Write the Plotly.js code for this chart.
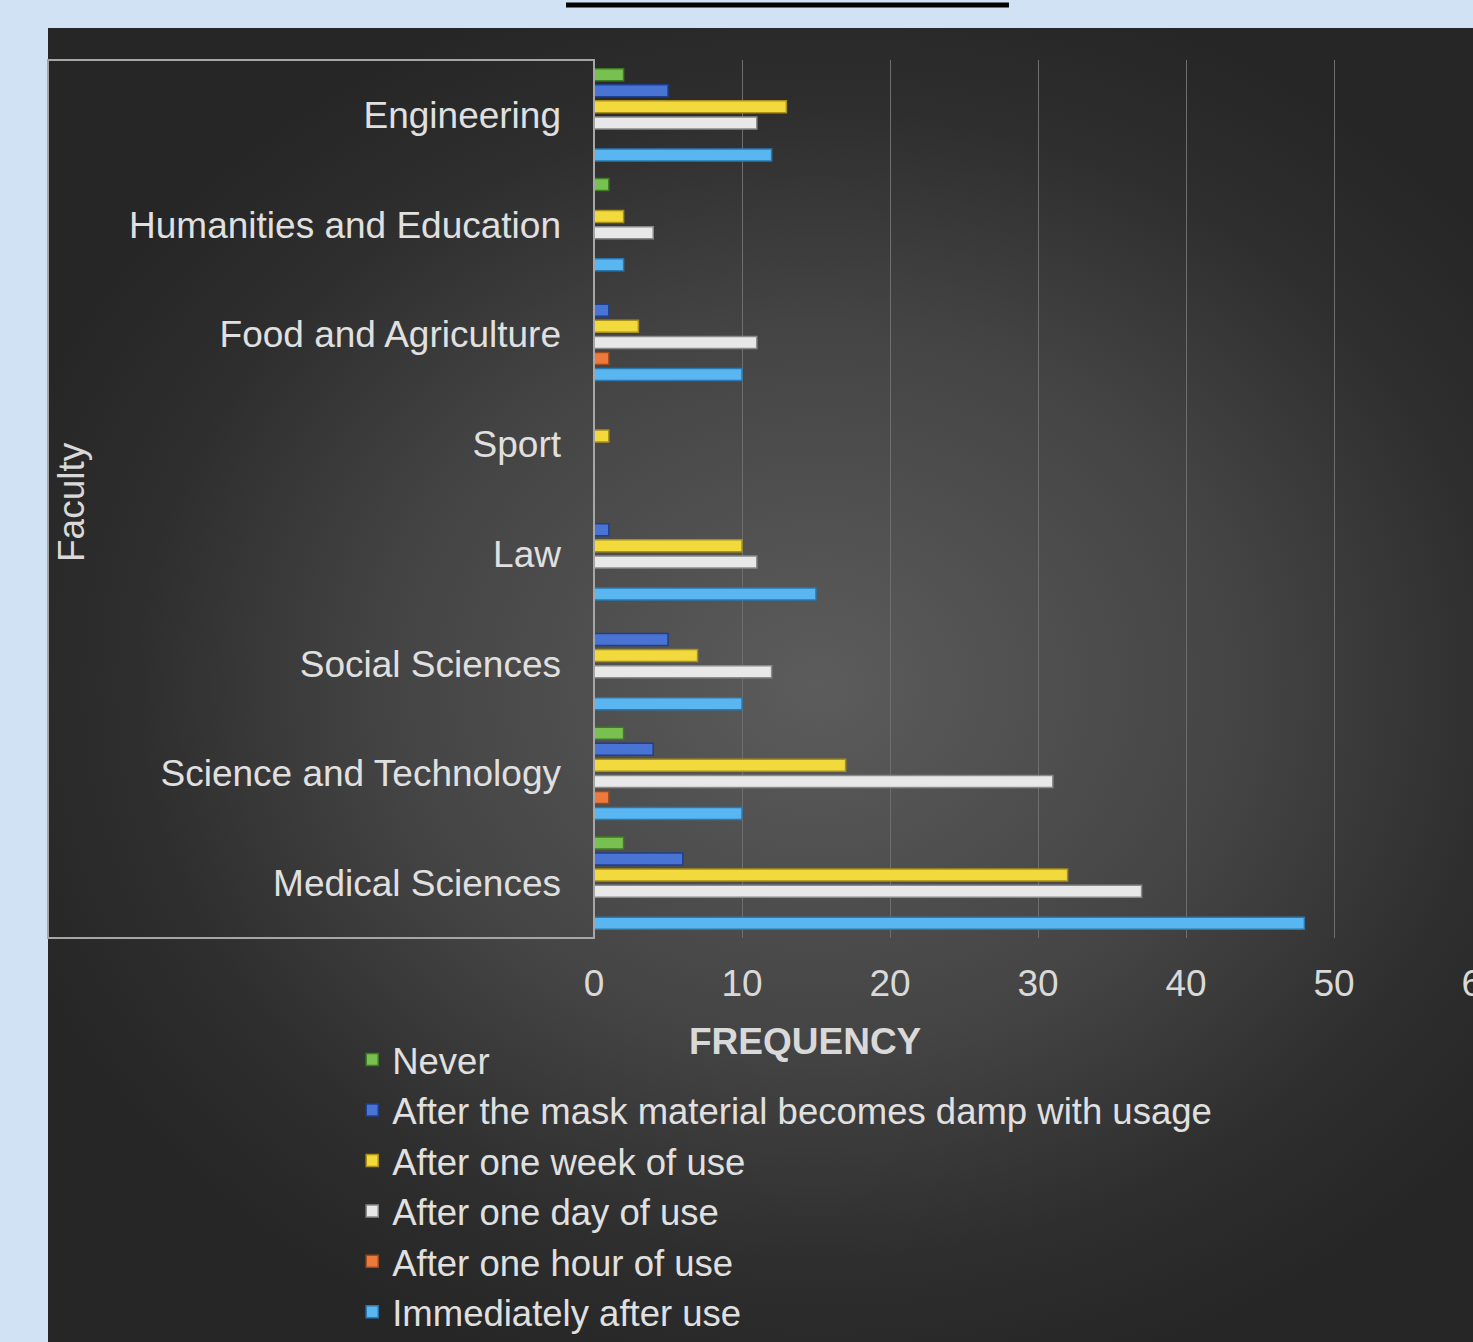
<!DOCTYPE html>
<html>
<head>
<meta charset="utf-8">
<script src="https://cdn.plot.ly/plotly-3.0.1.min.js"></script>
<style>
  html, body { margin:0; padding:0; width:1473px; height:1342px; overflow:hidden; background:#d0e2f3; }
  #panel { position:absolute; left:48px; top:28px; width:1425px; height:1314px;
    background: radial-gradient(ellipse 60% 55% at 54% 50%, #5c5c5c 0%, #444444 50%, #2e2e2e 80%, #262626 100%); }
  #chart { position:absolute; left:0; top:0; width:1520px; height:1342px; }
</style>
</head>
<body>
<div id="panel"></div>
<div id="chart"></div>
<script>
const categories = ["Engineering", "Humanities and Education", "Food and Agriculture", "Sport", "Law", "Social Sciences", "Science and Technology", "Medical Sciences"];
const seriesNames = ["Never", "After the mask material becomes damp with usage", "After one week of use", "After one day of use", "After one hour of use", "Immediately after use"];
const never       = [2, 1, 0, 0, 0, 0, 2, 2];
const damp        = [5, 0, 1, 0, 1, 5, 4, 6];
const oneWeek     = [13, 2, 3, 1, 10, 7, 17, 32];
const oneDay      = [11, 4, 11, 0, 11, 12, 31, 37];
const oneHour     = [0, 0, 1, 0, 0, 0, 1, 0];
const immediately = [12, 2, 10, 0, 15, 10, 10, 48];
const xTicks = [0, 10, 20, 30, 40, 50, 60];

const values = [never, damp, oneWeek, oneDay, oneHour, immediately];
const colors = ["#78c050", "#4a74d4", "#f2da3c", "#e8e8e8", "#ec7a3c", "#5ab6f0"];
const edges  = ["#3f7a25", "#1f3f8f", "#a8901a", "#8a8a8a", "#a04a1c", "#2a78b0"];

const traces = values.map((v, i) => ({
  type: "bar", orientation: "h", name: seriesNames[i],
  y: categories, x: v,
  marker: { color: colors[i], line: { color: edges[i], width: 1.5 } },
  hoverinfo: "x+y+name"
}));

const font = "Liberation Sans, Arial, sans-serif";
const layout = {
  width: 1520, height: 1342,
  margin: { l: 594, r: 38, t: 60, b: 404, autoexpand: false },
  paper_bgcolor: "rgba(0,0,0,0)", plot_bgcolor: "rgba(0,0,0,0)",
  barmode: "group", bargap: 0.125, bargroupgap: 0.25,
  font: { family: font, color: "#d9d9d9", size: 37 },
  xaxis: { range: [0, 60], tickvals: xTicks, showgrid: true, gridcolor: "#6e6e6e", gridwidth: 1,
           zeroline: false, showline: false, ticks: "", ticklabelstandoff: 20, automargin: false,
           tickfont: { size: 37, color: "#d9d9d9" } },
  yaxis: { autorange: "reversed", type: "category", showgrid: false, zeroline: false, showline: false,
           ticks: "", ticklabelstandoff: 32, automargin: false, tickfont: { size: 37, color: "#e0e0e0" } },
  showlegend: true,
  legend: { x: -0.2723, xanchor: "left", y: -0.104, yanchor: "top", orientation: "v",
            font: { size: 36.5, color: "#e0e0e0" }, bgcolor: "rgba(0,0,0,0)", itemwidth: 30, tracegroupgap: 0 },
  shapes: [
    { type: "rect", xref: "paper", yref: "paper", x0: -0.6149, x1: 0, y0: 0, y1: 1,
      line: { color: "#a6a6a6", width: 2 }, layer: "above" },
    { type: "line", xref: "paper", yref: "paper", x0: -0.0315, x1: 0.4673, y0: 1.0626, y1: 1.0626,
      line: { color: "#000000", width: 5 } }
  ],
  annotations: [
    { text: "<b>FREQUENCY</b>", xref: "paper", yref: "paper", x: 0.2387, y: -0.118, xanchor: "center", yanchor: "middle",
      showarrow: false, font: { size: 37, color: "#d9d9d9" } },
    { text: "Faculty", xref: "paper", yref: "paper", x: -0.5878, y: 0.4966, xanchor: "center", yanchor: "middle",
      textangle: -90, showarrow: false, font: { size: 37, color: "#d9d9d9" } }
  ]
};

Plotly.newPlot("chart", traces, layout, { displayModeBar: false, staticPlot: true });
</script>
</body>
</html>
